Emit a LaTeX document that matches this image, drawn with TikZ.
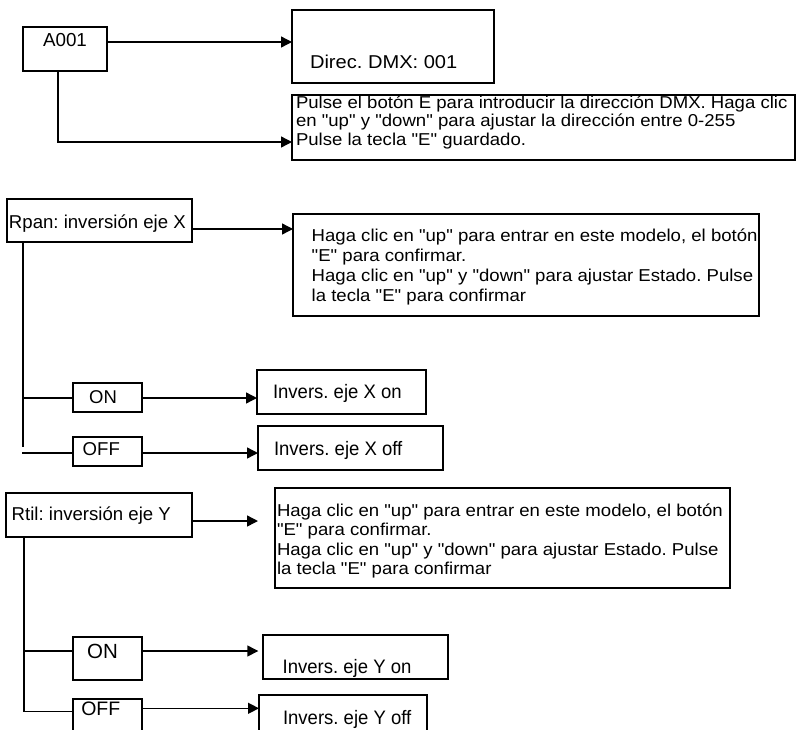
\documentclass[tikz,border=0pt]{standalone}
\usepackage{fontspec}
\setmainfont{Liberation Sans}[Ligatures=TeXOff]
\newfontfamily\widef{Liberation Sans}[Ligatures=TeXOff,FakeStretch=1.08]
\newfontfamily\narrowf{Liberation Sans}[Ligatures=TeXOff,FakeStretch=0.95]
\usetikzlibrary{arrows.meta}
\frenchspacing
\begin{document}
\begin{tikzpicture}[x=1pt,y=-1pt,
  box/.style={draw,line width=1.4pt,rectangle,inner sep=0pt,outer sep=0pt,anchor=north west},
  txt/.style={inner sep=0pt,outer sep=0pt,font=\fontsize{18.6}{20}\selectfont},
  para/.style={inner sep=0pt,outer sep=0pt,anchor=north west,align=left},
  inv/.style={inner sep=0pt,outer sep=0pt,anchor=base west,font=\narrowf\fontsize{19.5}{22}\selectfont},
  ln/.style={line width=1.4pt},
  arr/.style={line width=1.4pt,-{Triangle[length=11pt,width=11pt]}}]
\useasboundingbox (0,0) rectangle (796,729);
\clip (0,0) rectangle (796,729);

% boxes
\node[box,minimum width=84pt,minimum height=44pt]  (a001)    at (23,27)  {};
\node[box,minimum width=202pt,minimum height=73pt] (direc)   at (292,10) {};
\node[box,minimum width=503pt,minimum height=65pt] (pulse)   at (292,95) {};
\node[box,minimum width=185pt,minimum height=43pt] (rpan)    at (7,199)  {};
\node[box,minimum width=466pt,minimum height=102pt](haga1)   at (293,214){};
\node[box,minimum width=69pt,minimum height=29pt]  (onx)     at (73,383) {};
\node[box,minimum width=169pt,minimum height=44pt] (invxon)  at (257,370){};
\node[box,minimum width=69pt,minimum height=29pt]  (offx)    at (73,437) {};
\node[box,minimum width=185pt,minimum height=44pt] (invxoff) at (258,426){};
\node[box,minimum width=186pt,minimum height=44pt] (rtil)    at (6,493)  {};
\node[box,minimum width=455pt,minimum height=100pt](haga2)   at (275,488){};
\node[box,minimum width=69pt,minimum height=43pt]  (ony)     at (73,637) {};
\node[box,minimum width=185pt,minimum height=44pt] (invyon)  at (263,635){};
\node[box,minimum width=69pt,minimum height=46pt]  (offy)    at (73,699) {};
\node[box,minimum width=168pt,minimum height=50pt] (invyoff) at (259,695){};

% texts
\node[txt,anchor=base,font=\fontsize{18.8}{20}\selectfont] (a001t) at (65,46.7) {A001};
\node[txt,anchor=base west,font=\widef\fontsize{18.6}{22}\selectfont] (direct) at (310,68.7) {Direc. DMX: 001};
\node[para,font=\widef\fontsize{17.2}{18.7}\selectfont] (pulset) at (296,93.2)
  {\rule{0pt}{15pt}Pulse el botón E para introducir la dirección DMX. Haga clic\\en "up" y "down" para ajustar la dirección entre 0-255\\Pulse la tecla "E" guardado.};
\node[txt,anchor=base west] (rpant) at (9,228.8) {Rpan: inversión eje X};
\node[para,font=\widef\fontsize{17.2}{20}\selectfont] (haga1t) at (311.7,226.5)
  {\rule{0pt}{15pt}Haga clic en "up" para entrar en este modelo, el botón\\"E" para confirmar.\\Haga clic en "up" y "down" para ajustar Estado. Pulse\\la tecla "E" para confirmar};
\node[txt,anchor=base,font=\fontsize{18.5}{20}\selectfont] (onxt) at (103,403.5) {ON};
\node[inv] (invxont) at (273,398.3) {Invers. eje X on};
\node[txt,anchor=base] (offxt) at (101.3,455) {OFF};
\node[inv] (invxofft) at (274,455) {Invers. eje X off};
\node[txt,anchor=base west] (rtilt) at (11.7,520) {Rtil: inversión eje Y};
\node[para,font=\widef\fontsize{17.2}{19.5}\selectfont] (haga2t) at (277,501.2)
  {\rule{0pt}{15pt}Haga clic en "up" para entrar en este modelo, el botón\\"E" para confirmar.\\Haga clic en "up" y "down" para ajustar Estado. Pulse\\la tecla "E" para confirmar};
\node[txt,anchor=base,font=\fontsize{20.5}{22}\selectfont] (onyt) at (102.5,658.3) {ON};
\node[inv] (invyont) at (282.7,673.5) {Invers. eje Y on};
\node[txt,anchor=base,font=\fontsize{19.5}{22}\selectfont] (offyt) at (100.8,715.5) {OFF};
\node[inv] (invyofft) at (283,724.3) {Invers. eje Y off};

% connectors: A001
\draw[arr] (a001.east |- 0,42) -- (direc.west |- 0,42);
\draw[arr] (a001.south -| 58,0) |- (pulse.west |- 0,142);

% connectors: Rpan
\coordinate (xend) at (23,447);
\coordinate (xj1) at (23,398);
\coordinate (xoffstart) at (22,453);
\draw[arr] (rpan.east |- 0,229) -- (haga1.west |- 0,229);
\draw[ln] (rpan.south -| xend) -- (xend);
\draw[ln] (xj1) -- (onx.west |- xj1);
\draw[arr] (onx.east |- xj1) -- (invxon.west |- xj1);
\draw[ln] (xoffstart) -- (offx.west |- xoffstart);
\draw[arr] (offx.east |- xoffstart) -- (invxoff.west |- xoffstart);

% connectors: Rtil
\coordinate (yarrend) at (258,521);
\coordinate (yj1) at (24,651);
\draw[arr] (rtil.east |- yarrend) -- (yarrend);
\draw[ln] (rtil.south -| yj1) |- (offy.west |- 0,711.7);
\draw[ln] (yj1) -- (ony.west |- yj1);
\draw[arr,shorten >=4.7pt] (ony.east |- yj1) -- (invyon.west |- yj1);
\draw[arr] (offy.east |- 0,708.3) -- (invyoff.west |- 0,708.3);
\end{tikzpicture}
\end{document}
